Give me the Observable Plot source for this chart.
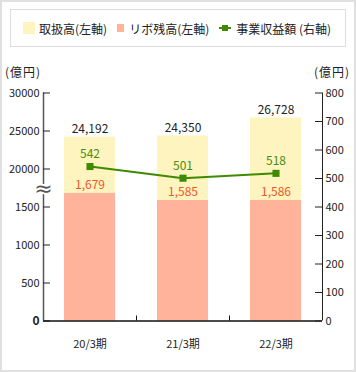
<!DOCTYPE html>
<html><head><meta charset="utf-8">
<script src="https://cdn.jsdelivr.net/npm/d3@7"></script>
<script src="https://cdn.jsdelivr.net/npm/@observablehq/plot@0.6"></script>
<style>
body{margin:0;background:#fff;font-family:"Noto Sans CJK JP",sans-serif;}
#wrap{position:relative;width:356px;height:372px;overflow:hidden;background:#fff;}
#wrap svg{position:absolute;left:0;top:0;}
#border{position:absolute;left:0;top:0;width:356px;height:372px;box-sizing:border-box;border:2px solid #e0e0e0;pointer-events:none;}
#legend{position:absolute;left:10px;top:9px;width:336px;height:38px;box-sizing:border-box;border:1px solid #ddd;display:flex;align-items:center;padding-left:12px;font-size:12px;color:#222;white-space:nowrap;}
.sw{display:inline-block;margin-right:4px;}
.item{display:flex;align-items:center;margin-right:10px;}
.unit{position:absolute;top:63px;font-size:12px;color:#222;width:40px;text-align:center;letter-spacing:1px;}
</style></head><body><div id="wrap"></div>
<script>
const categories = ["20/3期", "21/3期", "22/3期"];
const totals = [24192, 24350, 26728];      // 取扱高（左軸）
const ribo = [1679, 1585, 1586];           // リボ残高（左軸）
const revenue = [542, 501, 518];           // 事業収益額（右軸）
const leftTicks = [0, 500, 1000, 1500, 20000, 25000, 30000];
const rightTicks = [0, 100, 200, 300, 400, 500, 600, 700, 800];
const legendLabels = ["取扱高(左軸)", "リボ残高(左軸)", "事業収益額 (右軸)"];
const unitLabel = "(億円)";
const breakAt = 1750; // position of the axis break mark (between 1500 and 20000)

const YELLOW = "#fdf4bf", PINK = "#ffb39a", GREEN = "#3f8a00", GREEN_T = "#4a8c10", RED_T = "#f4542a";
const FONT = "'Noto Sans CJK JP', sans-serif";
const rows = categories.map((c, i) => ({cat: c, total: totals[i], ribo: ribo[i], rev: revenue[i]}));
const fmt = d3.format(",");

const W = 356, H = 372, ML = 43, MR = 34, MT = 92.5, MB = 51.5;
const xOpts = {type: "band", domain: categories, paddingInner: 0.452, paddingOuter: 0.226, axis: null};
const halfStep = (W - ML - MR) / categories.length / 2;
const unitPx = (H - MT - MB) / 6; // six tick intervals on the broken left axis

const plotA = Plot.plot({
  width: W, height: H, marginLeft: ML, marginRight: MR, marginTop: MT, marginBottom: MB,
  style: {background: "transparent", fontFamily: FONT, fontSize: "11px", color: "#222", overflow: "visible"},
  x: {...xOpts, axis: undefined},
  y: {type: "linear", domain: [0, 2000, 20000, 30000], range: [H - MB, H - MB - 4 * unitPx, H - MB - 4 * unitPx, MT]},
  marks: [
    Plot.barY(rows, {x: "cat", y1: "ribo", y2: "total", fill: YELLOW}),
    Plot.barY(rows, {x: "cat", y1: 0, y2: "ribo", fill: PINK}),
    Plot.text(rows, {x: "cat", y: "total", text: d => fmt(d.total), dy: -8, fill: "#222", fontSize: 12}),
    Plot.text(rows, {x: "cat", y: "ribo", text: d => fmt(d.ribo), dy: -8, fill: RED_T, fontSize: 12}),
    Plot.ruleX([categories[0]], {x: d => d, dx: -halfStep, y1: 0, y2: 30000, stroke: "#555", strokeWidth: 1.5}),
    Plot.text([breakAt], {x: () => categories[0], y: d => d, dx: -halfStep, dy: 1, text: () => "≈", fontSize: 22, fontFamily: "DejaVu Sans", fill: "#555", stroke: "white", strokeWidth: 4}),
    Plot.tickY(leftTicks, {y: d => d, stroke: "#222", insetRight: W - ML - MR - 7}),
    Plot.axisY({ticks: leftTicks.slice(1), tickSize: 0, tickPadding: 4, tickFormat: d => String(d), label: null}),
    Plot.axisY({ticks: [0], tickSize: 0, tickPadding: 4, tickFormat: d => String(d), fontWeight: "bold", fontSize: 12, label: null}),
    Plot.ruleY([0], {stroke: "#111", strokeWidth: 1.5}),
    Plot.ruleX(categories.slice(1), {x: d => d, dx: -halfStep, insetTop: H - MT - MB - 5, stroke: "#111"}),
    Plot.axisX({tickSize: 0, tickPadding: 19, label: null, fontSize: 11})
  ]
});

const plotB = Plot.plot({
  width: W, height: H, marginLeft: ML, marginRight: MR, marginTop: MT, marginBottom: MB,
  style: {background: "transparent", fontFamily: FONT, fontSize: "11px", color: "#222", overflow: "visible"},
  x: xOpts,
  y: {domain: [0, 800]},
  marks: [
    Plot.ruleX([categories[categories.length - 1]], {x: d => d, dx: halfStep, y1: 0, y2: 800, stroke: "#222"}),
    Plot.tickY(rightTicks, {y: d => d, stroke: "#222", insetLeft: W - ML - MR - 7}),
    Plot.axisY({anchor: "right", ticks: rightTicks, tickSize: 0, tickPadding: 3, tickFormat: d => String(d), label: null}),
    Plot.line(rows, {x: "cat", y: "rev", stroke: GREEN, strokeWidth: 2}),
    Plot.dot(rows, {x: "cat", y: "rev", symbol: "square", r: 4, fill: GREEN}),
    Plot.text(rows, {x: "cat", y: "rev", text: d => String(d.rev), dy: -12, fill: GREEN_T, fontSize: 12})
  ]
});

const wrap = document.getElementById("wrap");
wrap.appendChild(plotA);
wrap.appendChild(plotB);

// legend
const legend = document.createElement("div");
legend.id = "legend";
const swatches = [
  `<span class="sw" style="width:12px;height:12px;background:${YELLOW}"></span>`,
  `<span class="sw" style="width:7px;height:8px;background:${PINK};margin-right:5px"></span>`,
  `<span class="sw" style="position:relative;width:12px;height:6px;margin-right:5px"><span style="position:absolute;left:0;top:2px;width:12px;height:2px;background:${GREEN}"></span><span style="position:absolute;left:3px;top:0;width:6px;height:6px;background:${GREEN}"></span></span>`
];
legend.innerHTML = legendLabels.map((l, i) => `<span class="item">${swatches[i]}<span>${l}</span></span>`).join("");
wrap.appendChild(legend);

// unit labels
const uL = document.createElement("div"); uL.className = "unit"; uL.style.left = "3px"; uL.textContent = unitLabel; wrap.appendChild(uL);
const uR = document.createElement("div"); uR.className = "unit"; uR.style.left = "312px"; uR.textContent = unitLabel; wrap.appendChild(uR);

const border = document.createElement("div"); border.id = "border"; wrap.appendChild(border);
</script></body></html>
